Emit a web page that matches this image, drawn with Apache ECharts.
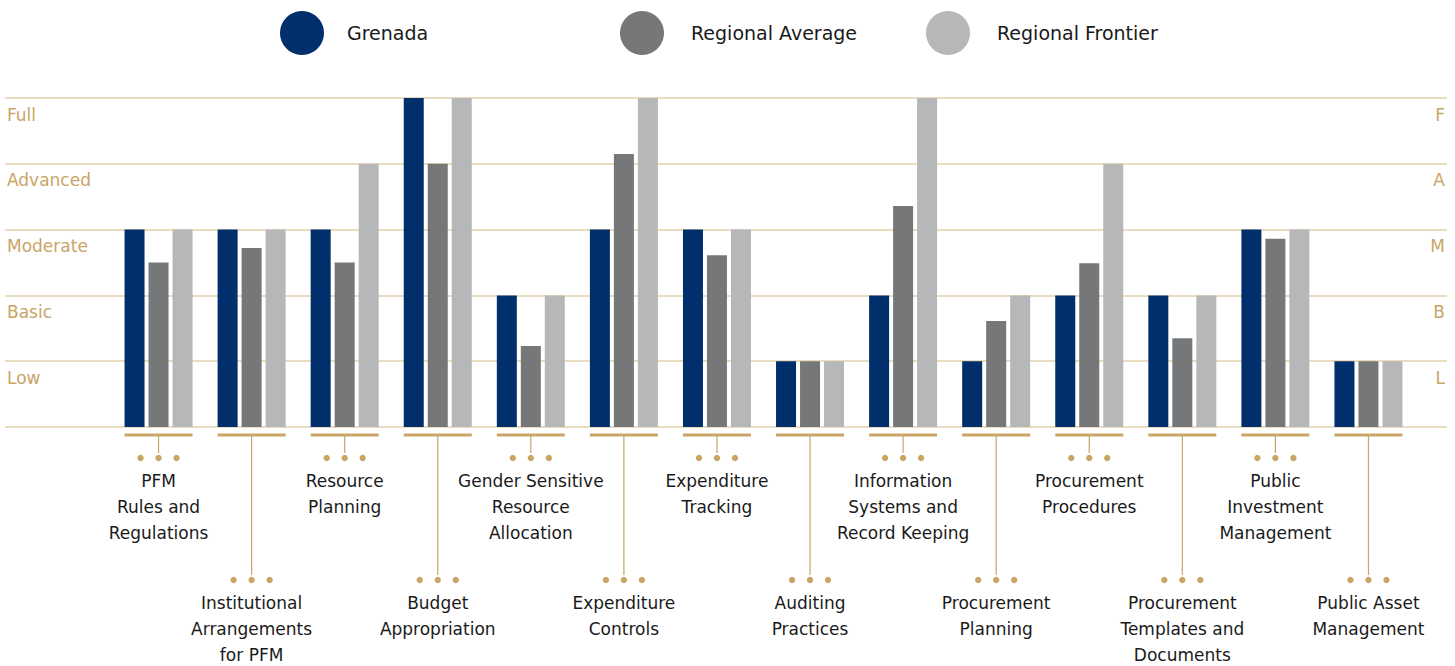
<!DOCTYPE html>
<html>
<head>
<meta charset="utf-8">
<script src="https://cdn.jsdelivr.net/npm/echarts@6/dist/echarts.min.js"></script>
<style>html,body{margin:0;padding:0;background:#fff}#c{width:1455px;height:666px}</style>
</head>
<body>
<div id="c"></div>
<script>
const categories = [
  "PFM\nRules and\nRegulations",
  "Institutional\nArrangements\nfor PFM",
  "Resource\nPlanning",
  "Budget\nAppropriation",
  "Gender Sensitive\nResource\nAllocation",
  "Expenditure\nControls",
  "Expenditure\nTracking",
  "Auditing\nPractices",
  "Information\nSystems and\nRecord Keeping",
  "Procurement\nPlanning",
  "Procurement\nProcedures",
  "Procurement\nTemplates and\nDocuments",
  "Public\nInvestment\nManagement",
  "Public Asset\nManagement"
];
const grenada = [3, 3, 3, 5, 2, 3, 3, 1, 2, 1, 2, 2, 3, 1];
const regionalAverage = [2.5, 2.72, 2.5, 4.0, 1.23, 4.15, 2.61, 1, 3.36, 1.61, 2.49, 1.35, 2.86, 1];
const regionalFrontier = [3, 3, 4, 5, 2, 5, 3, 1, 5, 2, 4, 2, 3, 1];
const levelLabels = ["", "Low", "Basic", "Moderate", "Advanced", "Full"];
const levelShort = ["", "L", "B", "M", "A", "F"];
const seriesNames = ["Grenada", "Regional Average", "Regional Frontier"];
const colors = ["#002f6c", "#767779", "#b6b7b9"];

const FONT = "DejaVu Sans";
const TAN = "#c9a566";
const GRID_TAN = "#e3d1a8";

const chart = echarts.init(document.getElementById('c'), null, {renderer: 'svg'});

function decoRender(params, api) {
  const i = api.value(0);
  const p = api.coord([i, 0]);
  const x = p[0], base = p[1];
  const lower = i % 2 === 1;
  const lineEnd = lower ? base + 148 : base + 26;
  const dotY = lower ? base + 153 : base + 31;
  const textTop = lower ? base + 163 : base + 41;
  const children = [
    {type: 'rect', shape: {x: x - 34, y: base + 6.5, width: 68, height: 3}, style: {fill: TAN}},
    {type: 'line', shape: {x1: x, y1: base + 9, x2: x, y2: lineEnd}, style: {stroke: TAN, lineWidth: 1.2}},
    {type: 'circle', shape: {cx: x - 18, cy: dotY, r: 3.2}, style: {fill: TAN}},
    {type: 'circle', shape: {cx: x, cy: dotY, r: 3.2}, style: {fill: TAN}},
    {type: 'circle', shape: {cx: x + 18, cy: dotY, r: 3.2}, style: {fill: TAN}},
    {type: 'text', style: {text: categories[i], x: x, y: textTop, align: 'center', verticalAlign: 'top',
      fontFamily: FONT, fontSize: 17, lineHeight: 26, fill: '#1a1a1a'}}
  ];
  return {type: 'group', children: children};
}

const legendLefts = [280, 620, 926];
const legendPads = [18, 22, 22];

const option = {
  animation: false,
  backgroundColor: '#fff',
  legend: seriesNames.map((n, k) => ({
    data: [n], left: legendLefts[k], top: 11, padding: 0, icon: 'circle', itemWidth: 44, itemHeight: 44,
    selectedMode: false,
    textStyle: {fontFamily: FONT, fontSize: 19, color: '#1a1a1a', padding: [0, 0, 0, legendPads[k]]}
  })),
  grid: [
    {left: 112, right: 40, top: 98, bottom: 239},
    {left: 5, right: 8, top: 98, bottom: 239}
  ],
  xAxis: [
    {type: 'category', data: categories, gridIndex: 0, axisLine: {show: false}, axisTick: {show: false},
     axisLabel: {show: false}, splitLine: {show: false}},
    {type: 'value', gridIndex: 1, show: false, min: 0, max: 1}
  ],
  yAxis: [
    {type: 'value', gridIndex: 0, min: 0, max: 5, interval: 1, show: false},
    {type: 'value', gridIndex: 1, min: 0, max: 5, interval: 1, position: 'left',
     axisLine: {show: false}, axisTick: {show: false},
     splitLine: {show: true, lineStyle: {color: GRID_TAN, width: 1.6}},
     axisLabel: {inside: true, margin: 2, verticalAlign: 'top', padding: [8, 0, 0, 0],
       fontFamily: FONT, fontSize: 17, color: TAN, formatter: v => levelLabels[v] || ''}},
    {type: 'value', gridIndex: 1, min: 0, max: 5, interval: 1, position: 'right',
     axisLine: {show: false}, axisTick: {show: false}, splitLine: {show: false},
     axisLabel: {inside: true, margin: 2, verticalAlign: 'top', padding: [8, 0, 0, 0],
       fontFamily: FONT, fontSize: 17, color: TAN, formatter: v => levelShort[v] || ''}}
  ],
  series: [
    {name: seriesNames[0], type: 'bar', xAxisIndex: 0, yAxisIndex: 0, data: grenada,
     barWidth: 20, barGap: '20%', itemStyle: {color: colors[0]}, z: 3},
    {name: seriesNames[1], type: 'bar', xAxisIndex: 0, yAxisIndex: 0, data: regionalAverage,
     barWidth: 20, barGap: '20%', itemStyle: {color: colors[1]}, z: 3},
    {name: seriesNames[2], type: 'bar', xAxisIndex: 0, yAxisIndex: 0, data: regionalFrontier,
     barWidth: 20, barGap: '20%', itemStyle: {color: colors[2]}, z: 3},
    {type: 'custom', xAxisIndex: 0, yAxisIndex: 0, data: categories.map((c, i) => [i]),
     encode: {x: 0}, renderItem: decoRender, clip: false, silent: true, z: 4}
  ]
};
chart.setOption(option);
</script>
</body>
</html>
